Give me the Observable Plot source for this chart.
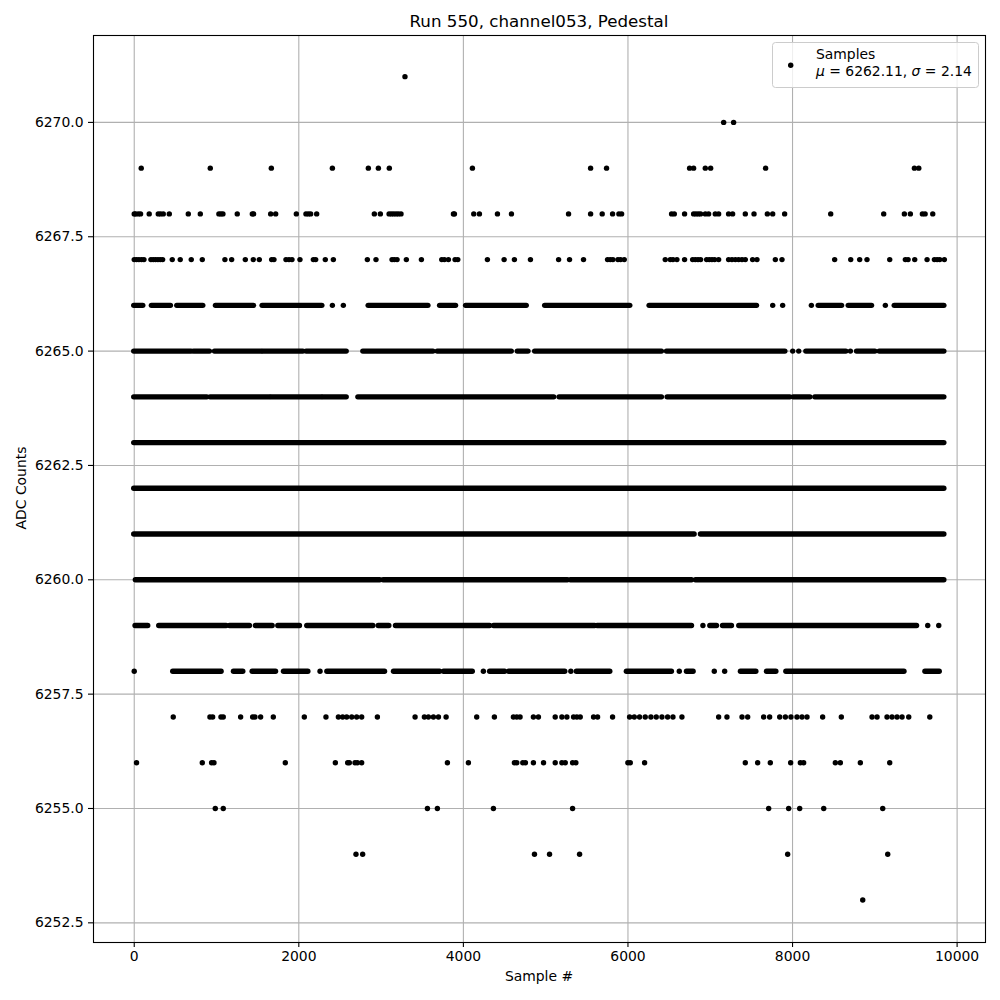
<!DOCTYPE html>
<html>
<head>
<meta charset="utf-8">
<script src="https://cdn.jsdelivr.net/npm/d3@7"></script>
<script src="https://cdn.jsdelivr.net/npm/@observablehq/plot@0.6"></script>
<style>
  html, body { margin: 0; padding: 0; background: white; }
  #chart { width: 1000px; height: 1000px; }
</style>
</head>
<body>
<div id="chart"></div>
<script>
// ---- Data (sample index per ADC level) ----
const title = "Run 550, channel053, Pedestal";
const xLabel = "Sample #";
const yLabel = "ADC Counts";
const xTicks = [0, 2000, 4000, 6000, 8000, 10000];
const yTicks = [6252.5, 6255.0, 6257.5, 6260.0, 6262.5, 6265.0, 6267.5, 6270.0];
const legendName = "Samples";
const meanValue = 6262.11;
const sigmaValue = 2.14;

// isolated samples per level
const dots6271 = [3290];
const dots6270 = [7163, 7284];
const dots6269 = [85, 924, 1666, 2408, 2845, 2967, 3100, 4110, 5546, 5740, 6749, 6798, 6940, 7005, 7673, 9481, 9534];
const dots6268 = [0, 16, 49, 77, 182, 292, 320, 353, 426, 657, 803, 1029, 1054, 1078, 1252, 1435, 1451, 1658, 1719, 1970, 2087, 2116, 2144, 2217, 2918, 2991, 3097, 3125, 3153, 3182, 3210, 3242, 3879, 3891, 4126, 4195, 4414, 4584, 5278, 5546, 5687, 5813, 5890, 5923, 6530, 6563, 6688, 6798, 6826, 6855, 6883, 6940, 6980, 7061, 7102, 7223, 7272, 7426, 7532, 7694, 7759, 7904, 8464, 9108, 9359, 9432, 9578, 9611, 9704];
const dots6267 = [0, 28, 57, 89, 118, 203, 231, 259, 288, 316, 345, 462, 559, 693, 827, 1102, 1184, 1350, 1447, 1520, 1670, 1698, 1844, 1881, 1917, 2014, 2177, 2205, 2322, 2420, 2833, 2938, 3133, 3161, 3194, 3307, 3490, 3737, 3769, 3818, 3899, 3932, 4292, 4495, 4620, 4815, 5157, 5290, 5460, 5752, 5785, 5817, 5878, 5910, 5955, 6453, 6514, 6547, 6595, 6688, 6786, 6818, 6851, 6883, 6956, 6988, 7021, 7053, 7102, 7223, 7264, 7305, 7345, 7386, 7426, 7515, 7568, 7791, 7872, 8512, 8707, 8816, 8905, 9181, 9371, 9404, 9485, 9635, 9724, 9757, 9789, 9845];
const dots6266 = [2408, 2541, 7759, 7880, 8229, 9128];
const dots6265 = [8002, 8075, 8703];
const dots6259 = [6911, 9643, 9777];
const dots6258 = [0, 2258, 4243, 5306, 6624, 7049, 7175];
const dots6257 = [474, 920, 953, 1054, 1082, 1293, 1439, 1467, 1536, 1690, 2067, 2330, 2481, 2533, 2582, 2643, 2703, 2764, 2955, 3413, 3526, 3575, 3636, 3697, 3790, 4162, 4377, 4608, 4649, 4689, 4851, 4912, 5116, 5197, 5258, 5339, 5379, 5420, 5582, 5631, 5813, 6020, 6077, 6141, 6210, 6279, 6344, 6413, 6482, 6547, 6656, 7102, 7203, 7386, 7455, 7649, 7722, 7844, 7913, 7981, 8054, 8115, 8176, 8366, 8593, 8966, 9027, 9148, 9209, 9270, 9331, 9412, 9668];
const dots6256 = [28, 827, 940, 969, 1836, 2444, 2594, 2614, 2683, 2712, 2764, 3806, 4061, 4620, 4649, 4722, 4754, 4851, 4974, 5116, 5197, 5238, 5327, 5367, 5999, 6028, 6202, 7426, 7576, 7730, 7977, 8095, 8135, 8520, 8581, 8824, 9181];
const dots6255 = [985, 1082, 3563, 3684, 4365, 5327, 7710, 7953, 8087, 8379, 9096];
const dots6254 = [2695, 2776, 4864, 5047, 5412, 7941, 9157];
const dots6253 = [8853];

// runs of consecutive samples (first, last) per level
const runs6266 = [[0, 110], [215, 446], [523, 839], [993, 1455], [1560, 2286], [2849, 3575], [3717, 3911], [4033, 4770], [4994, 6028], [6263, 7568], [8318, 8602], [8683, 8966], [9242, 9845]];
const runs6265 = [[0, 697], [726, 920], [981, 1548], [1568, 2055], [2095, 2582], [2784, 3636], [3688, 4588], [4661, 4791], [4872, 6413], [6474, 7913], [8168, 8654], [8784, 9007], [9059, 9845]];
const runs6264 = [[0, 888], [928, 1650], [1670, 2278], [2298, 2582], [2724, 5104], [5169, 6413], [6482, 7973], [8014, 8217], [8277, 9845]];
const runs6263 = [[0, 9845]];
const runs6262 = [[0, 9845]];
const runs6261 = [[0, 6810], [6887, 9845]];
const runs6260 = [[20, 2990], [3030, 5270], [5306, 6778], [6826, 9845]];
const runs6259 = [[16, 170], [304, 1123], [1163, 1406], [1479, 1682], [1751, 2014], [2103, 2906], [2971, 3100], [3181, 4324], [4373, 5602], [5631, 6778], [7001, 7082], [7155, 7264], [7353, 9513]];
const runs6258 = [[474, 1062], [1212, 1325], [1439, 1723], [1820, 2116], [2347, 3048], [3157, 3717], [3765, 4114], [4325, 4507], [4556, 5238], [5379, 5785], [5987, 6534], [6717, 6798], [7373, 7560], [7690, 7803], [7925, 9360], [9615, 9789]];

const levelTable = [
  [6271, dots6271, []], [6270, dots6270, []], [6269, dots6269, []], [6268, dots6268, []],
  [6267, dots6267, []], [6266, dots6266, runs6266], [6265, dots6265, runs6265], [6264, [], runs6264],
  [6263, [], runs6263], [6262, [], runs6262], [6261, [], runs6261], [6260, [], runs6260],
  [6259, dots6259, runs6259], [6258, dots6258, runs6258], [6257, dots6257, []], [6256, dots6256, []],
  [6255, dots6255, []], [6254, dots6254, []], [6253, dots6253, []]
];

const points = levelTable.flatMap(([y, ds]) => ds.map(x => ({x, y})));
const segments = levelTable.flatMap(([y, , rs]) => rs.map(([x0, x1]) => ({x0, x1, y})));

const FONT = "DejaVu Sans, sans-serif";
const grid = "#b0b0b0";

const svg = Plot.plot({
  width: 1000,
  height: 1000,
  marginLeft: 93,
  marginRight: 15,
  marginTop: 35,
  marginBottom: 58,
  x: {domain: [-495, 10345]},
  y: {domain: [6252.07, 6271.9]},
  style: {fontFamily: FONT, fontSize: "13.9px", background: "white", color: "black"},
  marks: [
    Plot.gridX({ticks: xTicks, stroke: grid, strokeOpacity: 1, strokeWidth: 1.1}),
    Plot.gridY({ticks: yTicks, stroke: grid, strokeOpacity: 1, strokeWidth: 1.1}),
    Plot.ruleY(segments, {y: "y", x1: "x0", x2: "x1", stroke: "black", strokeWidth: 5.4, strokeLinecap: "round"}),
    Plot.dot(points, {x: "x", y: "y", r: 2.7, fill: "black", stroke: "none"}),
    Plot.frame({stroke: "black", strokeWidth: 1.1}),
    Plot.axisX({ticks: xTicks, tickFormat: d3.format("d"), tickSize: 5, tickPadding: 4, label: null, fontSize: 13.9, strokeWidth: 1.1}),
    Plot.axisY({ticks: yTicks, tickFormat: d3.format(".1f"), tickSize: 5, tickPadding: 5, label: null, fontSize: 13.9, strokeWidth: 1.1})
  ]
});

const s = d3.select(svg);
s.append("text").attr("x", 539).attr("y", 27).attr("text-anchor", "middle")
  .attr("font-family", FONT).attr("font-size", 16.7).attr("fill", "black").text(title);
s.append("text").attr("x", 539).attr("y", 981).attr("text-anchor", "middle")
  .attr("font-family", FONT).attr("font-size", 13.9).attr("fill", "black").text(xLabel);
s.append("text").attr("transform", "translate(26,488) rotate(-90)").attr("text-anchor", "middle")
  .attr("font-family", FONT).attr("font-size", 13.9).attr("fill", "black").text(yLabel);

// legend
const lg = s.append("g").attr("text-anchor", "start");
lg.append("rect").attr("x", 772.5).attr("y", 42.5).attr("width", 206).attr("height", 45).attr("rx", 3)
  .attr("fill", "white").attr("fill-opacity", 0.8).attr("stroke", "#cccccc").attr("stroke-width", 1);
lg.append("circle").attr("cx", 790.7).attr("cy", 65.3).attr("r", 2.7).attr("fill", "black");
lg.append("text").attr("x", 816).attr("y", 59).attr("text-anchor", "start").attr("font-family", FONT).attr("font-size", 13.9)
  .attr("fill", "black").text(legendName);
const t2 = lg.append("text").attr("x", 816).attr("y", 75.5).attr("text-anchor", "start").attr("font-family", FONT).attr("font-size", 13.9).attr("fill", "black");
t2.append("tspan").attr("font-style", "italic").text("μ");
t2.append("tspan").text(` = ${meanValue.toFixed(2)}, `);
t2.append("tspan").attr("font-style", "italic").text("σ");
t2.append("tspan").text(` = ${sigmaValue.toFixed(2)}`);

document.getElementById("chart").appendChild(svg);
</script>
</body>
</html>
